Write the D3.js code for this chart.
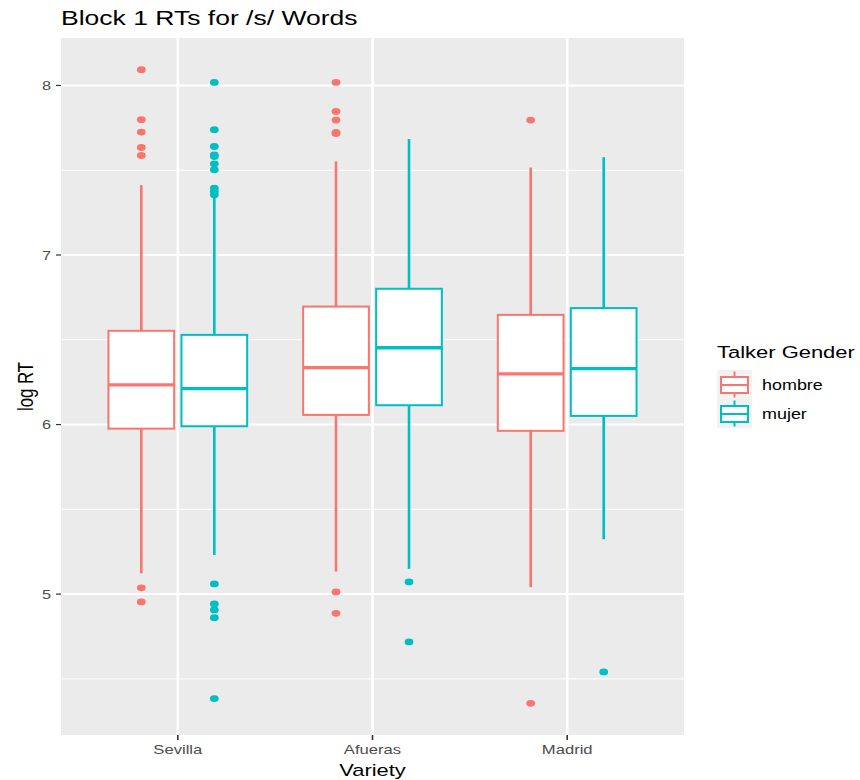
<!DOCTYPE html>
<html>
<head>
<meta charset="utf-8">
<script src="https://cdn.jsdelivr.net/npm/d3@7"></script>
<style>
  html, body { margin: 0; padding: 0; background: #ffffff; }
  svg { display: block; font-family: "Liberation Sans", Arial, Helvetica, sans-serif; }
</style>
</head>
<body>
<svg id="chart" width="860" height="780"></svg>
<script>
// ---------------- data ----------------
const categories = ["Sevilla", "Afueras", "Madrid"];
const groups = ["hombre", "mujer"];
const groupColors = ["#F8766D", "#00BFC4"];
const yTicks = [5, 6, 7, 8];
const yMinorTicks = [4.5, 5.5, 6.5, 7.5];

const hombreLow  = [5.123, 5.133, 5.041];
const hombreQ1   = [5.976, 6.057, 5.963];
const hombreMed  = [6.234, 6.336, 6.299];
const hombreQ3   = [6.553, 6.696, 6.647];
const hombreHigh = [7.412, 7.552, 7.516];

const mujerLow  = [5.231, 5.149, 5.324];
const mujerQ1   = [5.990, 6.114, 6.051];
const mujerMed  = [6.212, 6.453, 6.330];
const mujerQ3   = [6.529, 6.801, 6.687];
const mujerHigh = [7.340, 7.684, 7.577];

const hombreOutliers = [
  [8.093, 7.798, 7.725, 7.634, 7.587, 5.037, 4.954],
  [8.018, 7.847, 7.796, 7.723, 7.716, 5.013, 4.887],
  [7.796, 4.356]
];
const mujerOutliers = [
  [8.018, 7.739, 7.640, 7.591, 7.581, 7.538, 7.503, 7.395, 7.375, 7.355, 5.060, 4.942, 4.907, 4.861, 4.384],
  [5.072, 4.718],
  [4.541]
];

// ---------------- layout ----------------
const SX = 1.3; // horizontal text stretch seen in the reference
const panel = { left: 61, right: 684, top: 38, bottom: 735 };
const svg = d3.select("#chart");

const statsByGroup = {
  hombre: { low: hombreLow, q1: hombreQ1, med: hombreMed, q3: hombreQ3, high: hombreHigh, out: hombreOutliers },
  mujer:  { low: mujerLow,  q1: mujerQ1,  med: mujerMed,  q3: mujerQ3,  high: mujerHigh,  out: mujerOutliers }
};

const boxes = [];
categories.forEach((c, ci) => {
  groups.forEach((g, gi) => {
    const s = statsByGroup[g];
    boxes.push({ cat: c, group: g, color: groupColors[gi],
      low: s.low[ci], q1: s.q1[ci], med: s.med[ci], q3: s.q3[ci], high: s.high[ci], out: s.out[ci] });
  });
});

const allVals = boxes.flatMap(b => [b.low, b.high, ...b.out]);
const vMin = d3.min(allVals), vMax = d3.max(allVals);
const pad = (vMax - vMin) * 0.05;

const x = d3.scalePoint().domain(categories).range([panel.left, panel.right]).padding(0.6);
const step = x.step();
const xInner = d3.scaleBand().domain(groups).range([-step * 0.375, step * 0.375]);
const boxW = xInner.bandwidth() * 0.9;
const y = d3.scaleLinear().domain([vMin - pad, vMax + pad]).range([panel.bottom, panel.top]);

function stext(parent, px, py, str, size, anchor, fill, rotate) {
  return parent.append("text")
    .attr("transform", `translate(${px},${py}) scale(${SX},1)` + (rotate ? ` rotate(${rotate})` : ""))
    .attr("text-anchor", anchor || "start")
    .attr("font-size", size)
    .attr("fill", fill || "#000")
    .text(str);
}

// panel background
svg.append("rect")
  .attr("x", panel.left).attr("y", panel.top)
  .attr("width", panel.right - panel.left).attr("height", panel.bottom - panel.top)
  .attr("fill", "#EBEBEB");

// minor gridlines
svg.append("g").selectAll("line").data(yMinorTicks).join("line")
  .attr("x1", panel.left).attr("x2", panel.right)
  .attr("y1", d => y(d)).attr("y2", d => y(d))
  .attr("stroke", "#ffffff").attr("stroke-width", 1);

// major gridlines
svg.append("g").selectAll("line").data(yTicks).join("line")
  .attr("x1", panel.left).attr("x2", panel.right)
  .attr("y1", d => y(d)).attr("y2", d => y(d))
  .attr("stroke", "#ffffff").attr("stroke-width", 2);
svg.append("g").selectAll("line").data(categories).join("line")
  .attr("x1", d => x(d)).attr("x2", d => x(d))
  .attr("y1", panel.top).attr("y2", panel.bottom)
  .attr("stroke", "#ffffff").attr("stroke-width", 2.6);

// boxplots
const bg = svg.append("g").selectAll("g").data(boxes).join("g")
  .attr("transform", d => `translate(${x(d.cat) + xInner(d.group) + xInner.bandwidth() / 2},0)`);

bg.append("line").attr("x1", 0).attr("x2", 0)
  .attr("y1", d => y(d.high)).attr("y2", d => y(d.q3))
  .attr("stroke", d => d.color).attr("stroke-width", 2.6);
bg.append("line").attr("x1", 0).attr("x2", 0)
  .attr("y1", d => y(d.q1)).attr("y2", d => y(d.low))
  .attr("stroke", d => d.color).attr("stroke-width", 2.6);
bg.append("rect")
  .attr("x", -boxW / 2).attr("width", boxW)
  .attr("y", d => y(d.q3)).attr("height", d => y(d.q1) - y(d.q3))
  .attr("fill", "#ffffff").attr("stroke", d => d.color).attr("stroke-width", 2);
bg.append("line")
  .attr("x1", -boxW / 2).attr("x2", boxW / 2)
  .attr("y1", d => y(d.med)).attr("y2", d => y(d.med))
  .attr("stroke", d => d.color).attr("stroke-width", 3.4);
bg.selectAll("ellipse").data(d => d.out.map(v => ({ v, color: d.color }))).join("ellipse")
  .attr("cx", 0).attr("cy", d => y(d.v))
  .attr("rx", 4.4).attr("ry", 3.4)
  .attr("fill", d => d.color);

// y axis
const yAxis = svg.append("g");
yAxis.selectAll("line").data(yTicks).join("line")
  .attr("x1", panel.left - 5).attr("x2", panel.left)
  .attr("y1", d => y(d)).attr("y2", d => y(d))
  .attr("stroke", "#333333").attr("stroke-width", 1.2);
yTicks.forEach(t => stext(yAxis, panel.left - 10, y(t) + 4.5, String(t), 12.5, "end", "#4D4D4D"));

// x axis
const xAxis = svg.append("g");
xAxis.selectAll("line").data(categories).join("line")
  .attr("x1", d => x(d)).attr("x2", d => x(d))
  .attr("y1", panel.bottom).attr("y2", panel.bottom + 5)
  .attr("stroke", "#333333").attr("stroke-width", 1.6);
categories.forEach(c => stext(xAxis, x(c), panel.bottom + 19, c, 12.8, "middle", "#4D4D4D"));

// axis titles
stext(svg, (panel.left + panel.right) / 2, 776, "Variety", 16.8, "middle", "#000");
stext(svg, 33, (panel.top + panel.bottom) / 2, "log RT", 16.8, "middle", "#000", -90);

// title
stext(svg, panel.left, 25, "Block 1 RTs for /s/ Words", 20.4, "start", "#000");

// legend
const lg = svg.append("g");
stext(lg, 717, 358, "Talker Gender", 16.9, "start", "#000");
groups.forEach((g, i) => {
  const ky = 370 + i * 29;
  lg.append("rect").attr("x", 717).attr("y", ky).attr("width", 35).attr("height", 29).attr("fill", "#F2F2F2");
  const cx = 734.5;
  lg.append("line").attr("x1", cx).attr("x2", cx).attr("y1", ky + 1.5).attr("y2", ky + 27.5)
    .attr("stroke", groupColors[i]).attr("stroke-width", 2);
  lg.append("rect").attr("x", 721).attr("y", ky + 7).attr("width", 27).attr("height", 16)
    .attr("fill", "#ffffff").attr("stroke", groupColors[i]).attr("stroke-width", 2);
  lg.append("line").attr("x1", 721).attr("x2", 748).attr("y1", ky + 15).attr("y2", ky + 15)
    .attr("stroke", groupColors[i]).attr("stroke-width", 2);
  stext(lg, 762, ky + 20, g, 13.8, "start", "#000");
});
</script>
</body>
</html>
